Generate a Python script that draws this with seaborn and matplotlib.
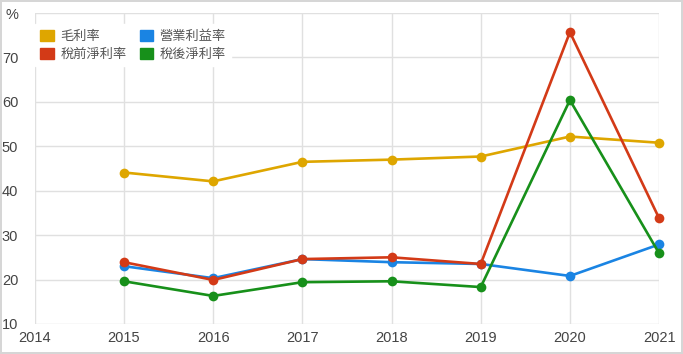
import pandas as pd
import matplotlib.pyplot as plt
import seaborn as sns

years = [2015, 2016, 2017, 2018, 2019, 2020, 2021]
gross_margin = [44.1, 42.1, 46.5, 47.0, 47.7, 52.2, 50.8]
operating_margin = [23.0, 20.3, 24.6, 23.9, 23.5, 20.8, 27.9]
pretax_margin = [23.9, 19.9, 24.6, 25.0, 23.5, 75.7, 33.8]
net_margin = [19.6, 16.3, 19.4, 19.6, 18.3, 60.4, 25.9]

series_names = ['毛利率', '營業利益率', '稅前淨利率', '稅後淨利率']
colors = ['#dea600', '#1a84e3', '#d33a17', '#17901a']
y_ticks = [10, 20, 30, 40, 50, 60, 70, 80]
y_tick_labels = ['10', '20', '30', '40', '50', '60', '70', '%']
x_ticks = [2014, 2015, 2016, 2017, 2018, 2019, 2020, 2021]

df = pd.DataFrame({
    'year': years * 4,
    'value': gross_margin + operating_margin + pretax_margin + net_margin,
    'series': sum([[n] * len(years) for n in series_names], []),
})

sns.set_style('white')
plt.rcParams['font.family'] = ['Liberation Sans', 'Noto Sans CJK TC', 'DejaVu Sans']

fig = plt.figure(figsize=(6.83, 3.54), dpi=100)
fig.patch.set_edgecolor('#d6d6d6')
fig.patch.set_linewidth(1.5)
ax = fig.add_axes([0.051, 0.085, 0.914, 0.878])

sns.lineplot(data=df, x='year', y='value', hue='series', hue_order=series_names,
             palette=colors, marker='o', markersize=7, markeredgewidth=0,
             linewidth=1.9, ax=ax, legend=False, clip_on=False)

ax.set_xlim(2014, 2021)
ax.set_ylim(10, 80)
ax.set_xticks(x_ticks)
ax.set_xticklabels([str(x) for x in x_ticks])
ax.set_yticks(y_ticks)
ax.set_yticklabels(y_tick_labels)
ax.set_xlabel('')
ax.set_ylabel('')
ax.grid(True, color='#e0e0e0', linewidth=1)
ax.set_axisbelow(True)
for s in ax.spines.values():
    s.set_visible(False)
ax.tick_params(axis='both', length=0, labelsize=10.5, colors='#444444')
ax.tick_params(axis='y', pad=12)
ax.tick_params(axis='x', pad=5)

# legend fills column-wise, so order handles to get two rows as in the original
order = [0, 2, 1, 3]
handles = [plt.Rectangle((0, 0), 1, 1, color=colors[i]) for i in order]
labels = [series_names[i] for i in order]
leg = ax.legend(handles, labels, ncol=2, loc='upper left',
                bbox_to_anchor=(-0.01, 0.985), frameon=True, fancybox=False,
                framealpha=1, edgecolor='white', fontsize=9.5,
                handlelength=1.0, handleheight=1.0, handletextpad=0.5,
                columnspacing=1.0, labelspacing=0.35, borderpad=0.4)
for t in leg.get_texts():
    t.set_color('#555555')

fig.savefig('out.png', dpi=100)
